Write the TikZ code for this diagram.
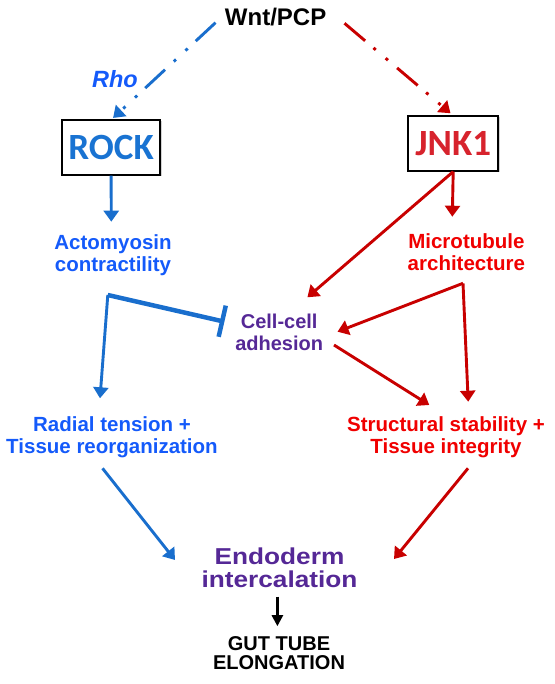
\documentclass[tikz,border=0pt]{standalone}
\usepackage{fontspec}
\setmainfont{Liberation Sans}
\newfontfamily\carl{Carlito}
\newfontfamily\widesans{Liberation Sans}[FakeStretch=1.14]
\usetikzlibrary{arrows.meta,shadows}
\definecolor{blueline}{RGB}{25,110,205}
\definecolor{bluetext}{RGB}{20,90,250}
\definecolor{rocktext}{RGB}{25,115,210}
\definecolor{redline}{RGB}{200,0,0}
\definecolor{redtext}{RGB}{240,0,0}
\definecolor{jnktext}{RGB}{215,35,45}
\definecolor{purp}{RGB}{85,40,150}
\begin{document}
\begin{tikzpicture}[x=1pt,y=-1pt,
  txt/.style={inner sep=0pt, align=center, anchor=base},
  lbl/.style={txt, font=\fontsize{20.5}{21.5}\selectfont\bfseries},
  kbox/.style={draw=black, line width=2pt, fill=white, minimum width=#1, minimum height=54.7pt, inner sep=0pt,
    drop shadow={shadow xshift=1.5pt, shadow yshift=-1.5pt, fill=black!35}},
  arr/.style={-{Triangle[length=11pt,width=15pt]}, line width=2.9pt},
  dd/.style={arr, line cap=butt, dash pattern=on 27pt off 11pt on 3pt off 13pt on 3pt off 12pt},
  blk/.style={-{Triangle[length=11pt,width=11pt]}, line width=2.5pt}
]
\useasboundingbox (0,0) rectangle (554,684);

% nodes (base = baseline of the last line)
\node[txt, font=\fontsize{24}{26}\selectfont\bfseries] (wnt) at (275.6,25.5) {Wnt/PCP};
\node[txt, text=bluetext, font=\fontsize{23.5}{26}\selectfont\bfseries\itshape] (rho) at (115,88) {Rho};
\node[kbox=98.7pt] (rock) at (111.1,147.3) {\carl\fontsize{37}{37}\selectfont\bfseries\color{rocktext}ROCK};
\node[kbox=90.3pt] (jnk) at (453.2,143.3) {\carl\fontsize{37}{37}\selectfont\bfseries\color{jnktext}JNK1};
\node[lbl, text=bluetext] (acto) at (113,271.5) {Actomyosin\\contractility};
\node[lbl, text=redtext] (micro) at (466.4,270.5) {Microtubule\\architecture};
\node[txt, text=purp, font=\fontsize{20}{21.7}\selectfont\bfseries] (cell) at (279.2,350) {Cell-cell\\adhesion};
\node[lbl, text=bluetext] (radial) at (112,453.3) {Radial tension +\\Tissue reorganization};
\node[lbl, text=redtext] (struct) at (446,453.3) {Structural stability +\\Tissue integrity};
\node[txt, text=purp, font=\widesans\fontsize{23}{22.5}\selectfont\bfseries] (endo) at (279.5,587) {Endoderm\\intercalation};
\node[txt, font=\fontsize{20}{18.5}\selectfont\bfseries] (gut) at (279,669) {GUT TUBE\\ELONGATION};

% corner points
\coordinate (ic) at ([shift={(-5.2,23.5)}]acto.base);
\coordinate (mc) at ([shift={(-3.4,12.8)}]micro.base);

% Wnt/PCP branches
\draw[dd, blueline] ([shift={(-60.1,-2.8)}]wnt.base) -- ([shift={(2,-1)}]rock.north);
\draw[dd, redline] ([shift={(68.9,-2.2)}]wnt.base) -- ([shift={(-2.7,-1.7)}]jnk.north);

% ROCK branch
\draw[arr, blueline] (rock.south) -- ([shift={(-1.7,-49.8)}]acto.base);
\draw[blueline, line width=4.5pt, -{Bar[width=32pt]}] (ic) -- ([shift={(-54.8,-28.3)}]cell.base);
\draw[arr, blueline] (ic) -- ([shift={(-12,-55)}]radial.base);

% JNK1 branch
\draw[arr, redline] (jnk.south) -- ([shift={(-14.1,-53.8)}]micro.base);
\draw[arr, redline] (jnk.south) -- ([shift={(28.2,-52.7)}]cell.base);
\draw[arr, redline] (mc) -- ([shift={(58.3,-18.3)}]cell.base);
\draw[arr, redline] (mc) -- ([shift={(22.2,-51.6)}]struct.base);
\draw[arr, redline] ([shift={(54.8,-5)}]cell.base) -- ([shift={(-16.7,-48.3)}]struct.base);

% to endoderm
\draw[arr, blueline] ([shift={(-9.5,15)}]radial.base) -- ([shift={(-104.5,-27)}]endo.base);
\draw[arr, redline] ([shift={(22,15)}]struct.base) -- ([shift={(114.5,-28)}]endo.base);
\draw[blk] ([shift={(-2.1,9.7)}]endo.base) -- ([shift={(-1.6,-42.8)}]gut.base);
\end{tikzpicture}
\end{document}
